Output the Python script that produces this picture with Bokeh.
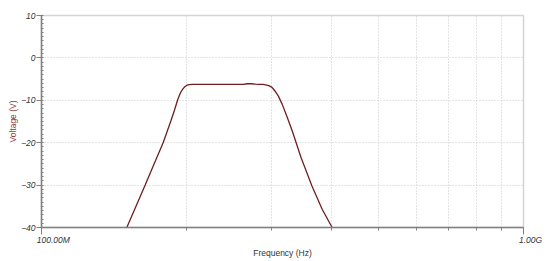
from bokeh.plotting import figure
from bokeh.models import Range1d, FixedTicker
from bokeh.embed import file_html
from bokeh.resources import INLINE

# Data (frequency in MHz, voltage in V)
freq_mhz = [150.3, 156.9, 164.1, 171.2, 178.8, 185.5, 188.8, 191.5, 193.0, 194.5,
            196.5, 198.3, 200.3, 202.4, 206.0, 215.0, 240.0, 262.0, 267.0, 272.0,
            278.0, 283.0, 288.0, 291.6, 296.2, 300.8, 305.0, 309.7, 315.7, 323.0,
            331.2, 345.5, 364.0, 382.2, 400.9]
voltage = [-40.0, -35.1, -30.0, -25.0, -20.0, -14.9, -12.3, -10.0, -9.0, -8.1,
           -7.3, -6.8, -6.45, -6.3, -6.25, -6.25, -6.25, -6.25, -6.1, -6.1,
           -6.2, -6.25, -6.25, -6.35, -6.55, -6.95, -7.8, -8.9, -10.9, -13.8,
           -17.2, -23.5, -30.2, -35.7, -40.0]
freq = [f * 1e6 for f in freq_mhz]

x_ticks = [1e8, 1e9]
x_tick_labels = ["100.00M", "1.00G"]
x_minor = [m * 1e8 for m in range(2, 10)]
y_ticks = [-40, -30, -20, -10, 0, 10]
y_grid = [-30, -20, -10, 0]
y_minor = [v for v in range(-40, 11) if v % 10 != 0]

FONT = "Liberation Sans"
NBSP = "\u00a0"

p = figure(width=550, height=261, x_axis_type="log",
           x_range=Range1d(1e8, 1e9), y_range=Range1d(-40, 10),
           output_backend="svg", toolbar_location=None,
           min_border_left=41, min_border_right=27, min_border_top=15,
           min_border_bottom=34)
p.background_fill_color = "white"
p.border_fill_color = "white"
p.outline_line_color = "#d4d4d4"
p.outline_line_width = 1.5

p.line(freq, voltage, line_color="#6e1e1e", line_width=1.3)

# X axis (labels padded so that they start just left of their ticks)
p.xaxis.ticker = FixedTicker(ticks=x_ticks, minor_ticks=x_minor)
p.xaxis.major_label_overrides = {
    x_ticks[0]: NBSP * 10 + x_tick_labels[0],
    x_ticks[1]: NBSP * 6 + x_tick_labels[1],
}
p.xaxis.major_label_text_font = FONT
p.xaxis.major_label_text_font_style = "italic"
p.xaxis.major_label_text_font_size = "8.5px"
p.xaxis.major_label_text_color = "#333333"
p.xaxis.major_label_standoff = 0
p.xaxis.axis_line_color = "#808080"
p.xaxis.axis_line_width = 1.5
p.xaxis.major_tick_line_color = "#808080"
p.xaxis.major_tick_out = 7
p.xaxis.major_tick_in = 0
p.xaxis.minor_tick_line_color = "#808080"
p.xaxis.minor_tick_out = 3
p.xaxis.minor_tick_in = 0
p.xaxis.axis_label = "Frequency (Hz)"
p.xaxis.axis_label_text_font = FONT
p.xaxis.axis_label_text_font_style = "normal"
p.xaxis.axis_label_text_font_size = "8.5px"
p.xaxis.axis_label_text_color = "#333333"
p.xaxis.axis_label_standoff = 0

# Y axis
p.yaxis.ticker = FixedTicker(ticks=y_ticks, minor_ticks=y_minor)
p.yaxis.axis_line_color = "#808080"
p.yaxis.axis_line_width = 1.5
p.yaxis.major_tick_line_color = "#808080"
p.yaxis.major_tick_out = 5
p.yaxis.major_tick_in = 2
p.yaxis.minor_tick_line_color = "#808080"
p.yaxis.minor_tick_out = 0
p.yaxis.minor_tick_in = 2
p.yaxis.major_label_text_font = FONT
p.yaxis.major_label_text_font_style = "italic"
p.yaxis.major_label_text_font_size = "8.5px"
p.yaxis.major_label_text_color = "#333333"
p.yaxis.major_label_standoff = 1
p.yaxis.axis_label = "Voltage (V)"
p.yaxis.axis_label_text_font = FONT
p.yaxis.axis_label_text_font_style = "normal"
p.yaxis.axis_label_text_font_size = "8.5px"
p.yaxis.axis_label_text_color = "#8b3a3a"
p.yaxis.axis_label_standoff = 0

# Grids
p.xgrid.ticker = FixedTicker(ticks=x_minor)
p.xgrid.grid_line_color = "#c8c8c8"
p.xgrid.grid_line_dash = "1 2"
p.ygrid.ticker = FixedTicker(ticks=y_grid)
p.ygrid.grid_line_color = "#c8c8c8"
p.ygrid.grid_line_dash = "1 2"

open("out.html", "w").write(file_html(p, INLINE))
